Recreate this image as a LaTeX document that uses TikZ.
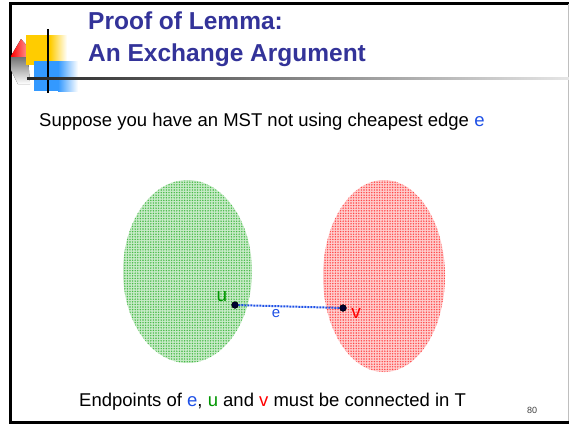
\documentclass[tikz,border=0pt]{standalone}
\usepackage{fontspec}
\setmainfont{Liberation Sans}
\usetikzlibrary{shapes.geometric,patterns.meta}
\definecolor{titleblue}{RGB}{51,51,153}
\definecolor{edgeblue}{RGB}{30,80,230}
\definecolor{ugreen}{RGB}{0,150,0}
\definecolor{vred}{RGB}{255,0,0}
\definecolor{logoyellow}{RGB}{255,204,0}
\definecolor{logoblue}{RGB}{51,153,255}
\begin{document}
\begin{tikzpicture}[x=1pt, y=-1pt,
    settitle/.style={font=\fontsize{24.5}{28}\selectfont\bfseries, text=titleblue, anchor=base west, inner sep=0pt},
    setbody/.style={font=\fontsize{18.5}{22}\selectfont, anchor=base west, inner sep=0pt},
    setblob/.style={ellipse, inner sep=0pt},
    setend/.style={circle, fill=black!80!blue, draw=black, inner sep=0pt, minimum size=6.5pt},
    setedge/.style={edgeblue, line width=2pt, dash pattern=on 2pt off 1pt}
]
    \useasboundingbox (0,0) rectangle (569,424);

    % Slide frame
    \fill[white] (0,0) rectangle (569,424);
    \draw[line width=3pt] (569,3.5) -- (10,3.5) -- (10,422.5) -- (569,422.5);
    \draw[black!25, line width=1pt] (568,3.5) -- (568,421);

    % Logo
    \fill[left color=vred, right color=vred!40] (11,56) -- (21,39) -- (28,47) -- (28,57) -- (11,57) -- cycle;
    \fill[top color=black!55, bottom color=white] (11,57) -- (28,57) -- (30,84) -- (18,84) -- (11,70) -- cycle;
    \fill[logoyellow] (26,35) rectangle (50,65);
    \fill[left color=logoyellow, right color=white] (50,35) rectangle (67,65);
    \fill[logoblue] (34,61) rectangle (58,91);
    \fill[left color=logoblue, right color=white] (58,61) rectangle (78,91);
    \draw[line width=2pt] (48,29) -- (48,93);
    \shade[left color=black!85, right color=black!10] (27,77) rectangle (569,79);

    % Title
    \node[settitle] (title1) at (88,29) {Proof of Lemma:};
    \node[settitle] (title2) at (88,61) {An Exchange Argument};

    % Statement
    \node[setbody] (claim) at (39,126) {Suppose you have an MST not using cheapest edge \textcolor{edgeblue}{e}};

    % Left set
    \node[setblob, minimum width=129pt, minimum height=183pt, fill={rgb,255:red,200;green,235;blue,200}] (U) at (187.5,271.5) {};
    \node[setblob, minimum width=129pt, minimum height=183pt, pattern={Dots[distance=2.6pt, radius=0.8pt]}, pattern color={rgb,255:red,70;green,185;blue,70}] at (187.5,271.5) {};

    % Right set
    \node[setblob, minimum width=122pt, minimum height=192pt, fill={rgb,255:red,255;green,205;blue,205}] (V) at (384,276) {};
    \node[setblob, minimum width=122pt, minimum height=192pt, pattern={Dots[distance=2.6pt, radius=0.8pt]}, pattern color={rgb,255:red,255;green,70;blue,70}] at (384,276) {};

    % Cheapest edge e
    \node[setend] (u) at (235,305) {};
    \node[setend] (v) at (343,308) {};
    \draw[setedge] (u) -- (v);
    \node[setend] at (u) {};
    \node[setend] at (v) {};
    \node[font=\fontsize{19}{22}\selectfont, text=ugreen] (ulabel) at (222,297) {u};
    \node[font=\fontsize{19}{22}\selectfont, text=vred] (vlabel) at (356,313) {v};
    \node[font=\fontsize{15}{18}\selectfont, text=edgeblue] (elabel) at (276,314) {e};

    % Conclusion
    \node[setbody] (concl) at (79,406) {Endpoints of \textcolor{edgeblue}{e}, \textcolor{ugreen}{u} and \textcolor{vred}{v} must be connected in T};
    \node[font=\fontsize{9}{10}\selectfont, text=black!75] (page) at (532,410) {80};
\end{tikzpicture}
\end{document}
